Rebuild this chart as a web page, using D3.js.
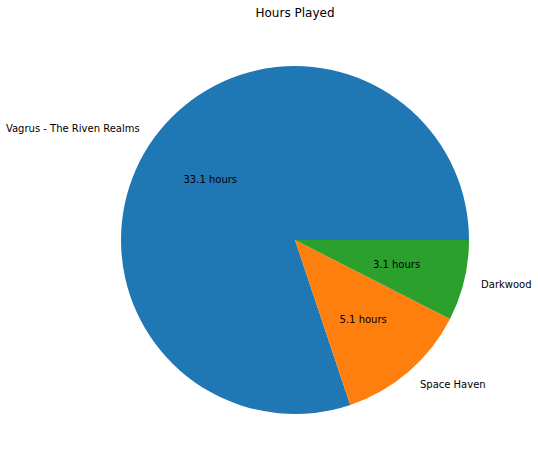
<!DOCTYPE html>
<html>
<head>
<meta charset="utf-8">
<script src="https://cdn.jsdelivr.net/npm/d3@7"></script>
<style>
  body { margin: 0; background: #fff; }
  svg text { font-family: "DejaVu Sans", sans-serif; }
</style>
</head>
<body>
<div class="main"></div>
<script>
// Data
let games = ["Vagrus - The Riven Realms", "Space Haven", "Darkwood"];
let hours = [33.1, 5.1, 3.1];
let colors = ["#1f77b4", "#ff7f0e", "#2ca02c"];

let width = 538, height = 465;
let cx = 295, cy = 240, r = 174;

let svg = d3.select("div.main").append("svg")
    .attr("width", width)
    .attr("height", height);

svg.append("text")
    .attr("x", cx)
    .attr("y", 17)
    .attr("text-anchor", "middle")
    .attr("font-size", 12)
    .text("Hours Played");

// matplotlib style: start at 3 o'clock, go counterclockwise
let pie = d3.pie()
    .sort(null)
    .startAngle(Math.PI / 2)
    .endAngle(Math.PI / 2 - 2 * Math.PI);

let arcs = pie(hours);
let arc = d3.arc().innerRadius(0).outerRadius(r);

let g = svg.append("g")
    .attr("transform", "translate(" + cx + "," + cy + ")");

g.selectAll("path")
    .data(arcs)
    .enter().append("path")
    .attr("d", arc)
    .attr("fill", (d, i) => colors[i]);

function pos(d, k) {
    let a = (d.startAngle + d.endAngle) / 2;
    return { x: k * r * Math.sin(a), y: -k * r * Math.cos(a) };
}

// outer labels
arcs.forEach(function(d, i) {
    let p = pos(d, 1.1);
    g.append("text")
        .attr("x", p.x)
        .attr("y", p.y)
        .attr("dy", "0.35em")
        .attr("text-anchor", p.x > 0 ? "start" : "end")
        .attr("font-size", 10)
        .text(games[i]);

    let q = pos(d, 0.6);
    g.append("text")
        .attr("x", q.x)
        .attr("y", q.y)
        .attr("dy", "0.35em")
        .attr("text-anchor", "middle")
        .attr("font-size", 10)
        .text(hours[i].toFixed(1) + " hours");
});
</script>
</body>
</html>
